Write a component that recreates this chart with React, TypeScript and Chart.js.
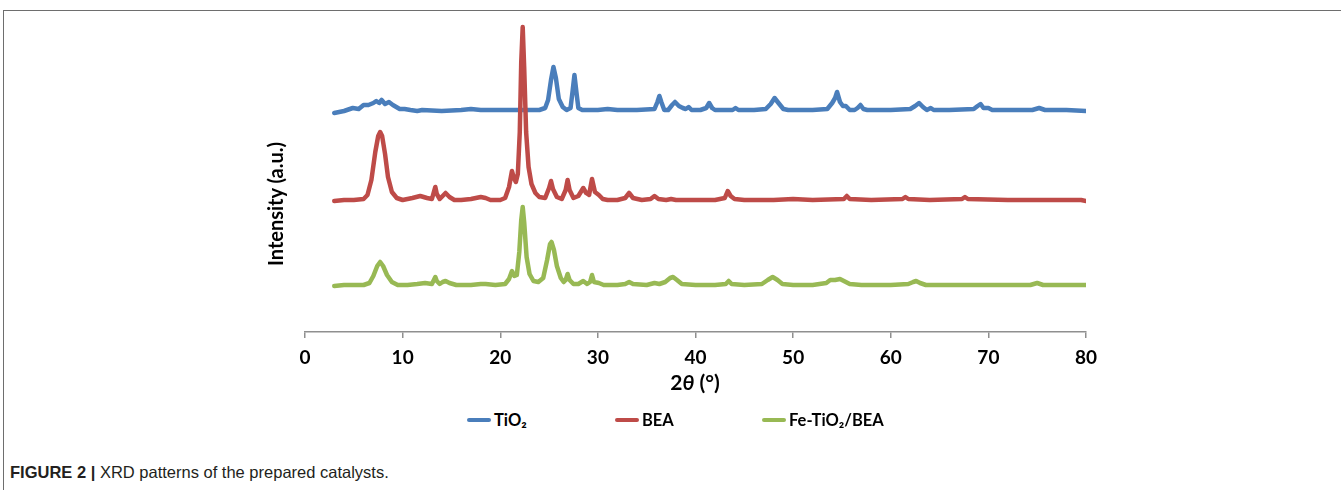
import { useEffect, useRef } from "react";
import { Chart, registerables } from "chart.js";

Chart.register(...registerables);

// ---- Data (2θ in degrees, intensity in arbitrary units, offset per pattern) ----
const tio2Theta = [3.0, 4.0, 4.9, 5.5, 6.0, 6.5, 7.0, 7.3, 7.6, 7.85, 8.2, 8.6, 9.0, 9.7, 10.2, 10.8, 11.5, 12.0, 14.0, 16.0, 17.0, 18.0, 20.0, 22.0, 24.0, 24.6, 24.9, 25.2, 25.45, 25.7, 26.0, 26.4, 26.8, 27.2, 27.4, 27.6, 27.8, 28.0, 28.4, 30.0, 31.0, 32.0, 34.0, 35.8, 36.1, 36.3, 36.5, 36.8, 37.2, 37.6, 37.9, 38.3, 38.7, 39.0, 39.3, 39.6, 40.5, 41.1, 41.4, 41.7, 42.0, 43.0, 43.8, 44.1, 44.4, 45.0, 46.0, 47.2, 47.7, 48.1, 48.5, 49.0, 49.5, 52.0, 53.5, 54.0, 54.3, 54.5, 54.8, 55.1, 55.4, 55.8, 56.3, 56.6, 56.9, 57.2, 57.6, 60.0, 62.0, 62.5, 62.9, 63.3, 63.7, 64.1, 64.4, 66.0, 68.5, 68.9, 69.2, 69.5, 70.0, 70.4, 72.0, 74.5, 75.2, 75.8, 78.0, 80.0];
const tio2Counts = [219, 221, 224, 223, 227, 227, 229, 231, 229, 232, 228, 230, 227, 223, 223, 222, 221, 222, 221, 222, 223, 222, 222, 222, 222, 224, 232, 252, 265, 254, 233, 225, 222, 224, 240, 257, 240, 224, 222, 222, 223, 222, 222, 223, 230, 236, 230, 222, 222, 227, 230, 226, 224, 223, 225, 222, 222, 224, 229, 224, 222, 222, 222, 224, 222, 222, 222, 223, 228, 234, 229, 223, 222, 222, 223, 229, 234, 240, 230, 226, 226, 222, 222, 224, 227, 223, 222, 222, 223, 226, 229, 225, 222, 224, 222, 222, 223, 226, 228, 224, 224, 222, 222, 222, 224, 222, 222, 221];

const beaTheta = [3.0, 4.0, 5.0, 6.0, 6.4, 6.8, 7.2, 7.5, 7.7, 7.9, 8.2, 8.5, 8.9, 9.4, 10.0, 11.0, 11.8, 12.5, 13.0, 13.2, 13.35, 13.5, 13.8, 14.1, 14.4, 14.8, 15.3, 16.0, 17.0, 18.0, 18.5, 19.0, 20.0, 20.5, 20.9, 21.2, 21.4, 21.6, 21.8, 22.0, 22.15, 22.3, 22.45, 22.65, 22.9, 23.2, 23.6, 24.0, 24.6, 25.0, 25.2, 25.4, 25.8, 26.3, 26.7, 26.9, 27.1, 27.5, 28.0, 28.5, 28.8, 29.1, 29.4, 29.7, 30.1, 30.5, 31.0, 32.0, 32.8, 33.2, 33.6, 34.5, 35.4, 35.8, 36.2, 37.0, 37.5, 38.0, 40.0, 42.0, 43.0, 43.3, 43.6, 44.0, 45.0, 48.0, 50.0, 52.0, 55.2, 55.5, 55.8, 58.0, 61.2, 61.5, 61.8, 64.0, 67.3, 67.6, 67.9, 72.0, 76.0, 79.5, 80.0];
const beaCounts = [131, 132, 132, 133, 137, 152, 180, 196, 200, 196, 178, 155, 140, 134, 132, 134, 136, 134, 133, 140, 145, 138, 133, 136, 139, 135, 132, 132, 133, 135, 134, 132, 132, 134, 145, 161, 154, 150, 158, 200, 270, 305, 265, 200, 165, 148, 139, 135, 134, 144, 151, 143, 135, 133, 142, 152, 142, 134, 136, 144, 139, 137, 153, 140, 137, 133, 132, 132, 134, 139, 134, 132, 133, 136, 133, 132, 133, 132, 132, 132, 134, 141, 136, 133, 132, 132, 133, 132, 133, 136, 133, 132, 133, 135, 133, 132, 133, 135, 133, 132, 132, 132, 131];

const feTheta = [3.0, 4.0, 5.0, 6.0, 6.6, 7.0, 7.4, 7.7, 8.0, 8.4, 8.9, 9.5, 10.5, 11.5, 12.3, 13.0, 13.2, 13.35, 13.5, 13.8, 14.1, 14.4, 14.8, 15.5, 17.0, 18.0, 18.5, 19.5, 20.5, 20.9, 21.2, 21.45, 21.7, 21.95, 22.15, 22.3, 22.45, 22.7, 23.0, 23.4, 23.9, 24.4, 24.8, 25.1, 25.25, 25.5, 25.8, 26.2, 26.5, 26.7, 26.9, 27.1, 27.5, 28.0, 28.5, 28.9, 29.2, 29.4, 29.6, 30.1, 30.6, 32.0, 32.8, 33.2, 33.6, 35.0, 35.8, 36.3, 36.9, 37.4, 37.7, 38.1, 38.6, 40.0, 42.0, 43.1, 43.4, 43.7, 45.0, 46.8, 47.4, 47.9, 48.4, 48.9, 50.0, 52.0, 53.4, 53.8, 54.3, 54.8, 55.2, 55.8, 57.0, 60.0, 61.8, 62.3, 62.6, 63.0, 63.6, 66.0, 70.0, 74.3, 75.0, 75.6, 78.0, 80.0];
const feCounts = [46, 47, 47, 47, 49, 56, 66, 70, 66, 57, 50, 47, 47, 48, 49, 48, 52, 55, 51, 48, 50, 51, 49, 47, 47, 48, 48, 47, 48, 53, 61, 56, 57, 80, 112, 125, 110, 75, 58, 51, 50, 54, 72, 88, 90, 82, 66, 54, 50, 52, 58, 52, 48, 48, 51, 48, 50, 57, 50, 49, 47, 47, 48, 50, 48, 47, 49, 48, 50, 54, 55, 52, 48, 47, 47, 48, 51, 48, 47, 48, 52, 55, 52, 48, 47, 47, 49, 52, 52, 53, 51, 48, 47, 47, 48, 50, 51, 49, 47, 47, 47, 47, 49, 47, 47, 47];

const seriesLabels = ["TiO₂", "BEA", "Fe-TiO₂/BEA"];
const seriesColors = ["#4A7EBB", "#BE4B48", "#98B954"];

const xMin = 0;
const xMax = 80;
const xStep = 10;
const yMin = 0;
const yMax = 310;

const toPoints = (xs: number[], ys: number[]) => xs.map((x, i) => ({ x, y: ys[i] }));

const legendLeft = [467, 615, 762];

export default function App() {
  const canvasRef = useRef<HTMLCanvasElement | null>(null);

  useEffect(() => {
    if (!canvasRef.current) return;
    const series = [
      toPoints(tio2Theta, tio2Counts),
      toPoints(beaTheta, beaCounts),
      toPoints(feTheta, feCounts),
    ];
    const drawOrder = [1, 0, 2];
    const chart = new Chart(canvasRef.current, {
      type: "line",
      data: {
        datasets: series.map((data, i) => ({
          label: seriesLabels[i],
          data,
          borderColor: seriesColors[i],
          backgroundColor: seriesColors[i],
          borderWidth: 4.5,
          pointRadius: 0,
          tension: 0,
          fill: false,
          order: drawOrder[i],
          borderJoinStyle: "round" as const,
          borderCapStyle: "round" as const,
        })),
      },
      options: {
        animation: false,
        responsive: false,
        devicePixelRatio: 1,
        layout: { padding: { left: 305, right: 255, top: 22, bottom: 0 } },
        plugins: {
          legend: { display: false },
          tooltip: { enabled: false },
          title: { display: false },
        },
        scales: {
          x: {
            type: "linear",
            min: xMin,
            max: xMax,
            ticks: {
              stepSize: xStep,
              color: "#000",
              padding: 8,
              font: { family: "Lato, 'Open Sans', sans-serif", weight: "bold", size: 19 },
            },
            grid: {
              drawOnChartArea: false,
              drawTicks: true,
              tickLength: 6,
              color: "#8f8f8f",
              lineWidth: 1.5,
            },
            border: { display: true, color: "#8f8f8f", width: 1.5 },
            afterFit: (scale: any) => {
              scale.height = 48;
            },
          },
          y: {
            display: false,
            min: yMin,
            max: yMax,
          },
        },
      },
    });
    return () => chart.destroy();
  }, []);

  const fontLato = "Lato, 'Open Sans', sans-serif";

  return (
    <div style={{ position: "absolute", left: 0, top: 0, width: 1341, height: 490, overflow: "hidden", background: "#fff" }}>
      <div
        style={{
          position: "absolute",
          left: 3,
          top: 10,
          width: 1338,
          height: 480,
          borderTop: "1.5px solid #6e6e6e",
          borderLeft: "1.5px solid #6e6e6e",
          boxSizing: "border-box",
        }}
      />
      <canvas ref={canvasRef} width={1341} height={380} style={{ position: "absolute", left: 0, top: 0, width: 1341, height: 380 }} />
      <div
        style={{
          position: "absolute",
          left: 275,
          top: 204,
          transform: "translate(-50%, -50%) rotate(-90deg)",
          whiteSpace: "nowrap",
          fontFamily: fontLato,
          fontWeight: 700,
          fontSize: 20,
          color: "#000",
        }}
      >
        Intensity (a.u.)
      </div>
      <div
        style={{
          position: "absolute",
          left: 695,
          top: 381,
          transform: "translate(-50%, -50%)",
          whiteSpace: "nowrap",
          fontFamily: fontLato,
          fontWeight: 700,
          fontSize: 21,
          color: "#000",
        }}
      >
        2<i>θ</i> (°)
      </div>
      {seriesLabels.map((label, i) => (
        <div
          key={label}
          style={{
            position: "absolute",
            left: legendLeft[i],
            top: 420,
            transform: "translateY(-50%)",
            display: "flex",
            alignItems: "center",
            whiteSpace: "nowrap",
            fontFamily: fontLato,
            fontWeight: 700,
            fontSize: 16.5,
            color: "#000",
          }}
        >
          <span style={{ display: "inline-block", width: 24, height: 4, borderRadius: 2, background: seriesColors[i], marginRight: 3 }} />
          <span>{label}</span>
        </div>
      ))}
      <div
        style={{
          position: "absolute",
          left: 10,
          top: 472,
          transform: "translateY(-50%)",
          whiteSpace: "nowrap",
          fontFamily: "'Liberation Sans', Arial, sans-serif",
          fontSize: 16.5,
          color: "#231f20",
        }}
      >
        <b>FIGURE 2 |</b> XRD patterns of the prepared catalysts.
      </div>
    </div>
  );
}
